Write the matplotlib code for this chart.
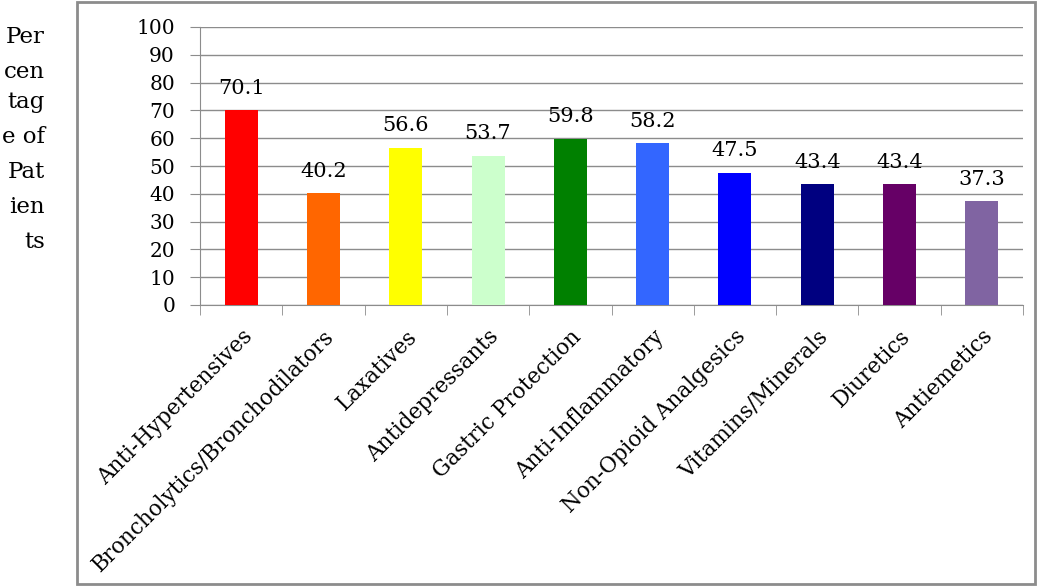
import matplotlib.pyplot as plt
from matplotlib.patches import Rectangle
import numpy as np

categories = ['Anti-Hypertensives', 'Broncholytics/Bronchodilators', 'Laxatives',
              'Antidepressants', 'Gastric Protection', 'Anti-Inflammatory',
              'Non-Opioid Analgesics', 'Vitamins/Minerals', 'Diuretics', 'Antiemetics']
values = [70.1, 40.2, 56.6, 53.7, 59.8, 58.2, 47.5, 43.4, 43.4, 37.3]
colors = ['#FF0000', '#FF6600', '#FFFF00', '#CCFFCC', '#008000', '#3366FF',
          '#0000FF', '#000080', '#660066', '#8064A2']
ylabel_lines = ['Per', 'cen', 'tag', 'e of', 'Pat', 'ien', 'ts']

plt.rcParams['font.family'] = ['DejaVu Serif']

fig = plt.figure(figsize=(10.5, 5.86), dpi=100)

# grey frame around the chart area
fig.patches.append(Rectangle((77 / 1050, 2 / 586), 958 / 1050, 582 / 586,
                             transform=fig.transFigure, fill=False,
                             edgecolor='#8c8c8c', linewidth=2))

ax = fig.add_axes([200 / 1050, 1 - 305 / 586, 823 / 1050, 278 / 586])
x = np.arange(len(categories))
ax.bar(x, values, width=0.4, color=colors, zorder=3)

for xi, v in zip(x, values):
    ax.annotate(f'{v:.1f}', (xi, v), xytext=(0, 9), textcoords='offset points',
                ha='center', va='bottom', fontsize=15)

ax.set_xlim(-0.5, len(categories) - 0.5)
ax.set_ylim(0, 100)
ax.set_yticks(range(0, 101, 10))
ax.tick_params(axis='y', labelsize=14.5, length=7, color='#8c8c8c', pad=11)
ax.yaxis.grid(True, color='#8c8c8c', linewidth=1)
ax.set_axisbelow(True)

ax.set_xticks(x)
ax.set_xticklabels(categories, rotation=45, ha='right', rotation_mode='anchor',
                   fontsize=15.5)
ax.tick_params(axis='x', which='major', length=0, pad=15)
ax.set_xticks(np.arange(-0.5, len(categories)), minor=True)
ax.tick_params(axis='x', which='minor', length=7, color='#8c8c8c')

for side in ['top', 'right']:
    ax.spines[side].set_visible(False)
for side in ['left', 'bottom']:
    ax.spines[side].set_color('#8c8c8c')

ylabel_y = [37, 72, 102, 137, 172, 207, 242]
for yy, line in zip(ylabel_y, ylabel_lines):
    fig.text(45 / 1050, 1 - yy / 586, line, ha='right', va='center',
             fontsize=16.5)

fig.savefig('out.png', dpi=100)
